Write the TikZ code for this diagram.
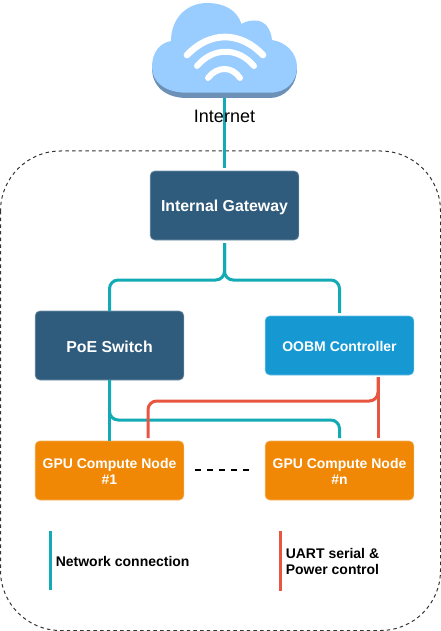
\documentclass[tikz,border=0pt]{standalone}
\usepackage{fontspec}
\setmainfont{Liberation Sans}
\definecolor{navy}{HTML}{2F5B7C}
\definecolor{oobm}{HTML}{1699D3}
\definecolor{gpu}{HTML}{F08705}
\definecolor{net}{HTML}{12AAB5}
\definecolor{uart}{HTML}{E85642}
\definecolor{cloudc}{HTML}{99CCFF}
\definecolor{cloudd}{HTML}{6C90B6}
\definecolor{frame}{HTML}{333333}
\newcommand\dropstrut[1]{\rule{0pt}{#1}}
\tikzset{
  box/.style={rounded corners=3.5pt,inner sep=0pt,outer sep=0pt,minimum width=111.5pt,align=center,text=white,font=\bfseries,line width=0.5pt},
  navybox/.style={box,fill=navy,draw=navy!65!white,minimum height=51.75pt,font=\bfseries\fontsize{11.9}{14}\selectfont},
  oobmbox/.style={box,fill=oobm,draw=oobm!65!white,minimum height=44.25pt,font=\bfseries\fontsize{10.5}{12}\selectfont},
  gpubox/.style={box,fill=gpu,draw=gpu!65!white,minimum height=44.25pt,font=\bfseries\fontsize{10.5}{12}\selectfont},
  netline/.style={draw=net,line width=2.25pt,rounded corners=6.5pt},
  uartline/.style={draw=uart,line width=2.25pt,rounded corners=6.5pt},
  legend/.style={inner sep=0pt,align=left,anchor=west,font=\bfseries\fontsize{10.5}{12}\selectfont},
  wifi/.style={draw=white,line cap=round,line width=5pt}
}
\begin{document}
\begin{tikzpicture}[x=0.75pt,y=-0.75pt]
\useasboundingbox (0,0) rectangle (441,631);
% frame
\draw[frame,line width=0.75pt,dash pattern=on 2.6pt off 2.4pt,rounded corners=45pt] (0.5,151) rectangle (440.5,630.5);
% boxes
\node[navybox] (gw) at (224.5,205.5) {\dropstrut{10.9pt}Internal Gateway};
\node[navybox] (poe) at (109.5,345.5) {\dropstrut{10.9pt}PoE Switch};
\node[oobmbox] (oob) at (339.5,345.5) {\dropstrut{8.9pt}OOBM Controller};
\node[gpubox] (g1) at (109.5,470.5) {\dropstrut{8.8pt}GPU Compute Node\\\#1};
\node[gpubox] (gn) at (339.5,470.5) {\dropstrut{8.8pt}GPU Compute Node\\\#n};
% helper points
\coordinate (cloudfoot) at (224.5,96);
\coordinate (gwtop) at (224.5,168);
\coordinate (bus) at (224.5,280);
\coordinate (netbus) at (109.5,420);
\coordinate (redbus) at (378,401);
\coordinate (redtop) at (378,377);
\coordinate (redend) at (378,438);
\coordinate (red1) at (148,438);
\coordinate (netn) at (339.5,438);
\coordinate (oobtop) at (339.5,313);
% connectors
\draw[net,line width=2.25pt] (cloudfoot) -- (gwtop);
\draw[netline] (gw.south) ++(0,3) -- (bus) -- (bus -| poe.north) -- (poe.north);
\draw[netline] (gw.south) ++(0,3) -- (bus) -- (bus -| oobtop) -- (oobtop);
\draw[net,line width=2.25pt] (poe.south) -- (g1.north);
\draw[netline] (poe.south) -- (netbus) -- (netbus -| netn) -- (netn);
\draw[uart,line width=2.25pt] (redtop) -- (redend);
\draw[uartline] (redtop) -- (redbus) -- (redbus -| red1) -- (red1);
% cloud
\path[fill=cloudd] (187,98) .. controls (165,98) and (152,86) .. (152,68) -- (297,68) .. controls (297,86) and (284,98) .. (270,98) -- cycle;
\path[fill=cloudc] (187,92.7)
  .. controls (165,92.7) and (152,82) .. (152,67)
  .. controls (152,52) and (160,43) .. (171,41)
  .. controls (171,18) and (187,3) .. (207,3)
  .. controls (224,3) and (237,10) .. (241.5,24)
  .. controls (246,21) and (251,20.5) .. (255,20.5)
  .. controls (265,20.5) and (271,29) .. (272,40)
  .. controls (286,42) and (297,53) .. (297,67)
  .. controls (297,82) and (286,92.7) .. (270,92.7) -- cycle;
\draw[wifi] (187,55) .. controls (210,31) and (240,31) .. (263,55);
\draw[wifi,line width=4.5pt] (197,66) .. controls (213,47) and (238,47) .. (254,66);
\draw[wifi,line width=4.5pt] (208,78) .. controls (217,66) and (232,66) .. (240,78);
\node[inner sep=0pt,font=\fontsize{13.5}{15}\selectfont] (inet) at (224.5,116) {Internet};
% ellipsis
\coordinate (dashl) at (195,470);
\coordinate (dashr) at (249,470);
\draw[black,line width=1.1pt,dash pattern=on 4.5pt off 4.5pt] (dashl) -- (dashr);
% legend
\coordinate (la) at (50.5,531);
\coordinate (lb) at (50.5,590);
\coordinate (lc) at (280.5,531);
\coordinate (ld) at (280.5,591);
\draw[net,line width=2.25pt] (la) -- (lb);
\draw[uart,line width=2.25pt] (lc) -- (ld);
\node[legend] (lnet) at (55.5,561) {Network connection};
\node[legend] (luart) at (285.5,561) {UART serial \&\\Power control};
\end{tikzpicture}
\end{document}
